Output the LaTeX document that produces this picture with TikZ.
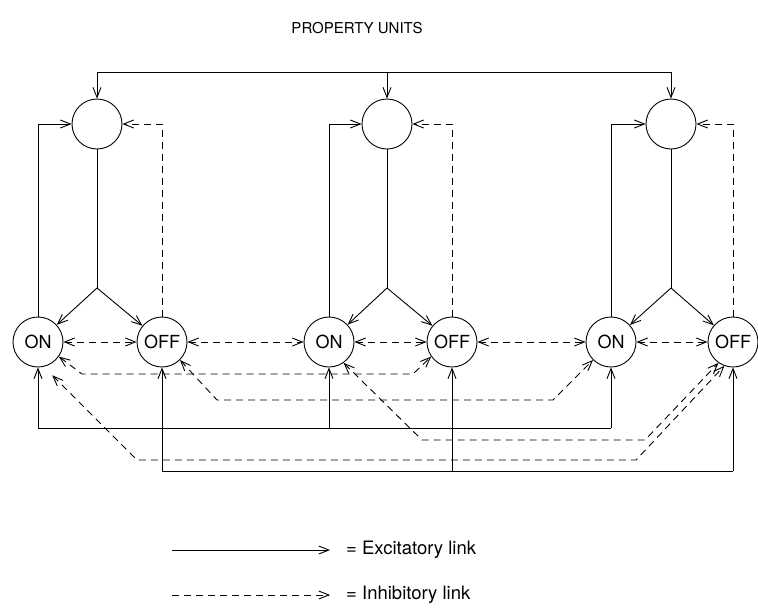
\documentclass[tikz,border=0pt]{standalone}
\usepackage{fontspec}
\setmainfont{TeX Gyre Heros}
\usetikzlibrary{arrows.meta}

\begin{document}
\begin{tikzpicture}[x=1pt, y=-1pt, >={Straight Barb[length=10pt,width=8pt]},
    unit/.style={draw, circle, minimum size=50pt, inner sep=0pt, line width=0.9pt,
        font=\fontsize{18}{18}\selectfont},
    link/.style={line width=0.9pt},
    exc/.style={->, line width=0.9pt},
    inh/.style={->, line width=0.9pt, dash pattern=on 7pt off 5pt},
    mutual/.style={<->, line width=0.9pt, dash pattern=on 7pt off 5pt},
    legend/.style={anchor=west, inner sep=0pt, font=\fontsize{18.5}{20}\selectfont}]
    \useasboundingbox (0,0) rectangle (758,611);

    \node[font=\fontsize{15}{15}\selectfont] (title) at (357,28) {PROPERTY UNITS};

    \foreach \i/\xx in {1/97, 2/387, 3/671}
        \node[unit] (t\i) at (\xx,124) {};
    \foreach \i/\xon/\xoff in {1/38/162, 2/329/452, 3/611/733} {
        \node[unit] (on\i) at (\xon,342) {ON};
        \node[unit] (off\i) at (\xoff,342) {OFF};
    }

    \coordinate (bus) at (0,72);
    \coordinate (forkrow) at (0,288);
    \draw[link] (t1 |- bus) -- (t3 |- bus);
    \foreach \i in {1,2,3} {
        \coordinate (fork\i) at (t\i |- forkrow);
        \draw[exc] (t\i |- bus) -- (t\i);
        \draw[link] (t\i) -- (fork\i);
        \draw[exc] (fork\i) -- (on\i);
        \draw[exc] (fork\i) -- (off\i);
        \draw[exc] (on\i) |- (t\i);
        \draw[inh] (off\i) |- (t\i);
    }

    \foreach \a/\b in {on1/off1, off1/on2, on2/off2, off2/on3, on3/off3}
        \draw[mutual] (\a) -- (\b);

    \draw[mutual] (on1.-35) -- (82,374) -- (413,374) -- (off2.215);
    \draw[mutual] (off1.-45) -- (217,400) -- (553,400) -- (on3.225);
    \draw[mutual] (on2.-55) -- (422,440) -- (645,440) -- (off3.235);
    \draw[mutual, shorten <=12pt] (on1.-77) -- (137,460) -- (636,460) -- (off3.250);

    \coordinate (onbus) at (0,428);
    \coordinate (offbus) at (0,471);
    \draw[link] (on1 |- onbus) -- (on3 |- onbus);
    \draw[link] (off1 |- offbus) -- (off3 |- offbus);
    \foreach \i in {1,2,3} {
        \draw[exc] (on\i |- onbus) -- (on\i);
        \draw[exc] (off\i |- offbus) -- (off\i);
    }

    \coordinate (exa) at (172,550);
    \coordinate (exb) at (330,550);
    \draw[exc] (exa) -- (exb);
    \node[legend] (exlabel) at (346,550) {= Excitatory link};
    \coordinate (ina) at (172,595);
    \coordinate (inb) at (330,595);
    \draw[inh] (ina) -- (inb);
    \node[legend] (inlabel) at (346,595) {= Inhibitory link};
\end{tikzpicture}
\end{document}
